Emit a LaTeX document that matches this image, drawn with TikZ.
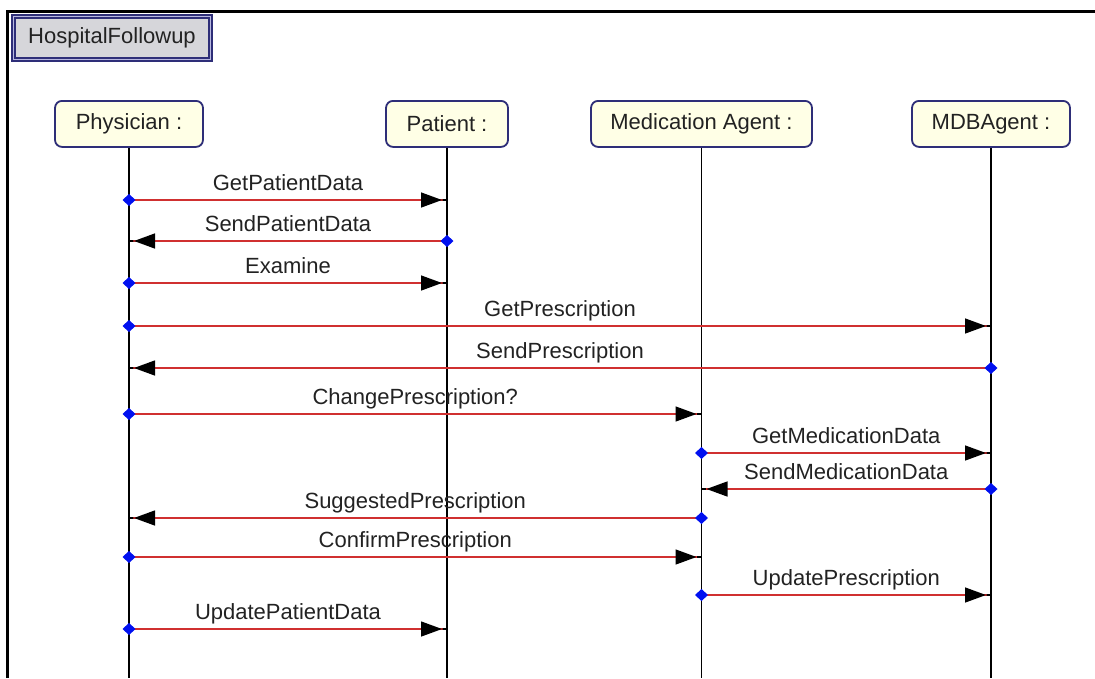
\documentclass[tikz,border=0pt]{standalone}
\usepackage{fontspec}
\setmainfont{Liberation Sans}
\usetikzlibrary{arrows.meta}

\definecolor{msgred}{HTML}{D03030}
\definecolor{boxnavy}{HTML}{2E2E78}
\definecolor{boxfill}{HTML}{FFFFE6}
\definecolor{titlefill}{HTML}{D6D6DA}
\definecolor{titlegap}{HTML}{B8B8E0}
\definecolor{inktext}{HTML}{222222}
\definecolor{handleblue}{HTML}{0010F0}

\begin{document}
\begin{tikzpicture}[x=1pt, y=-1pt,
  font=\fontsize{22}{26}\selectfont,
  frameline/.style={line width=3pt, draw=black},
  titlebox/.style={draw=boxnavy, line width=1.7pt, double=titlegap,
    double distance=1.3pt, fill=titlefill, text=inktext,
    minimum width=197pt, minimum height=43pt, inner sep=0pt},
  actor/.style={draw=boxnavy, line width=1.8pt, fill=boxfill,
    rounded corners=7pt, minimum height=46pt, inner sep=0pt,
    text=inktext, anchor=north},
  lifeline/.style={draw=black, line width=1.5pt},
  msg/.style={draw=msgred, line width=1.4pt, shorten <=-6.5pt,
    {Diamond[length=13pt,width=12pt,color=handleblue]}-{Triangle[length=21pt,width=15pt,color=black,sep=0pt]Rectangle[length=5pt,width=1.4pt,color=black]}},
  lbl/.style={anchor=base, yshift=10pt, text=inktext, inner sep=0pt}
]
\useasboundingbox (0,0) rectangle (1095,678);

% outer frame (left and top edges)
\coordinate (fr-bl) at (7.5,678);
\coordinate (fr-tl) at (7.5,11);
\coordinate (fr-tr) at (1095,11);
\draw[frameline] (fr-bl) -- (fr-tl) -- (fr-tr);

% diagram title
\node[titlebox] (title) at (112,38) {HospitalFollowup};

% participants
\node[actor, minimum width=148pt] (phy) at (129,100) {Physician :};
\node[actor, minimum width=122pt] (pat) at (447,100) {Patient :};
\node[actor, minimum width=221pt] (med) at (701.5,100) {Medication Agent :};
\node[actor, minimum width=158pt] (mdb) at (991,100) {MDBAgent :};

% lifelines
\coordinate (bottom) at (0,678);
\foreach \p in {phy,pat,med,mdb}
  \draw[lifeline] (\p.south) -- (\p.south |- bottom);

% message rows
\coordinate (r1) at (0,200);
\coordinate (r2) at (0,241);
\coordinate (r3) at (0,283);
\coordinate (r4) at (0,326);
\coordinate (r5) at (0,368);
\coordinate (r6) at (0,414);
\coordinate (r7) at (0,453);
\coordinate (r8) at (0,489);
\coordinate (r9) at (0,518);
\coordinate (r10) at (0,557);
\coordinate (r11) at (0,595);
\coordinate (r12) at (0,629);

% messages
\draw[msg] (phy.south |- r1) -- node[lbl]{GetPatientData} (pat.south |- r1);
\draw[msg] (pat.south |- r2) -- node[lbl]{SendPatientData} (phy.south |- r2);
\draw[msg] (phy.south |- r3) -- node[lbl]{Examine} (pat.south |- r3);
\draw[msg] (phy.south |- r4) -- node[lbl]{GetPrescription} (mdb.south |- r4);
\draw[msg] (mdb.south |- r5) -- node[lbl]{SendPrescription} (phy.south |- r5);
\draw[msg] (phy.south |- r6) -- node[lbl]{ChangePrescription?} (med.south |- r6);
\draw[msg] (med.south |- r7) -- node[lbl]{GetMedicationData} (mdb.south |- r7);
\draw[msg] (mdb.south |- r8) -- node[lbl]{SendMedicationData} (med.south |- r8);
\draw[msg] (med.south |- r9) -- node[lbl]{SuggestedPrescription} (phy.south |- r9);
\draw[msg] (phy.south |- r10) -- node[lbl]{ConfirmPrescription} (med.south |- r10);
\draw[msg] (med.south |- r11) -- node[lbl]{UpdatePrescription} (mdb.south |- r11);
\draw[msg] (phy.south |- r12) -- node[lbl]{UpdatePatientData} (pat.south |- r12);
\end{tikzpicture}
\end{document}
